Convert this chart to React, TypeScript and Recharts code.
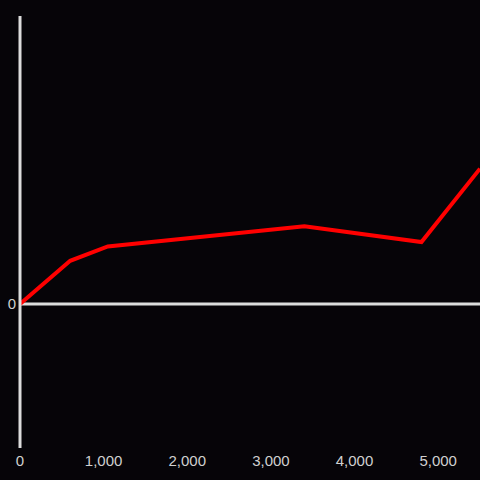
import React from 'react';
import { LineChart, Line, XAxis, YAxis, ReferenceLine } from 'recharts';

const xValues = [0, 600, 1050, 3400, 4800, 5500];
const yValues = [0, 30, 40, 54, 43, 94];
const xTicks = [0, 1000, 2000, 3000, 4000, 5000];
const yTicks = [0];

const data = xValues.map((x, i) => ({ x, y: yValues[i] }));

const tickStyle = { fill: '#d0d0d0', fontSize: 15, fontFamily: '"Liberation Sans", Arial, sans-serif' };

const App: React.FC = () => {
    return (
        <div style={{ position: 'absolute', left: 0, top: 0, width: 480, height: 480, background: '#060408' }}>
            <LineChart
                width={480}
                height={480}
                data={data}
                margin={{ top: 16, right: 0, left: 0, bottom: 0 }}
            >
                <XAxis
                    dataKey="x"
                    type="number"
                    domain={[0, 5500]}
                    ticks={xTicks}
                    tickFormatter={(v: number) => v.toLocaleString('en-US')}
                    axisLine={false}
                    tickLine={false}
                    tickSize={0}
                    tickMargin={7}
                    height={32}
                    tick={tickStyle}
                    interval={0}
                />
                <YAxis
                    type="number"
                    domain={[-100, 200]}
                    ticks={yTicks}
                    width={20}
                    axisLine={{ stroke: '#dcdcdc', strokeWidth: 3 }}
                    tickLine={false}
                    tickSize={0}
                    tickMargin={4}
                    tick={tickStyle}
                />
                <ReferenceLine y={0} stroke="#dcdcdc" strokeWidth={3} />
                <Line
                    type="linear"
                    dataKey="y"
                    stroke="#ff0000"
                    strokeWidth={4}
                    dot={false}
                    isAnimationActive={false}
                />
            </LineChart>
        </div>
    );
};

export default App;
